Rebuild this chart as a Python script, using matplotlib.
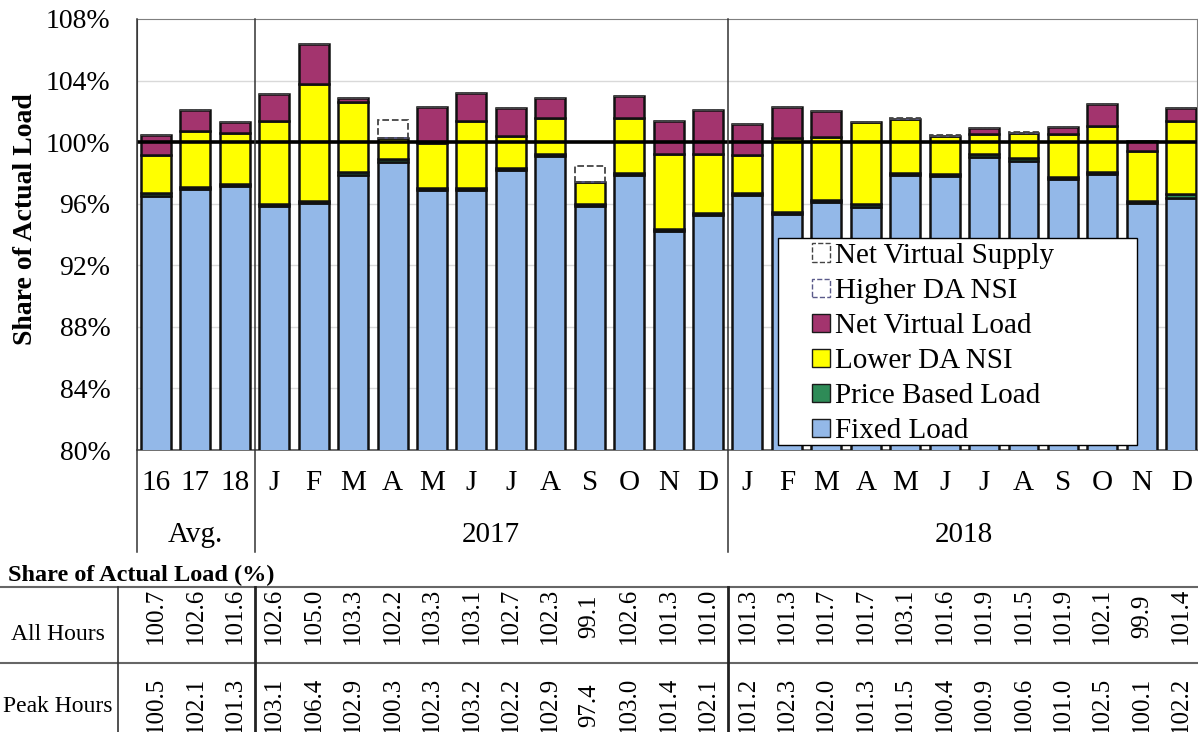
import matplotlib
matplotlib.use('Agg')
import matplotlib.pyplot as plt
import matplotlib.transforms as mtransforms
from matplotlib.patches import Patch, Rectangle
import numpy as np

plt.rcParams['font.family'] = ['Liberation Serif', 'DejaVu Serif']

# kategorie na osi x
etykiety = ['16', '17', '18',
            'J', 'F', 'M', 'A', 'M', 'J', 'J', 'A', 'S', 'O', 'N', 'D',
            'J', 'F', 'M', 'A', 'M', 'J', 'J', 'A', 'S', 'O', 'N', 'D']
grupy = ['Avg.', '2017', '2018']

# skladowe slupkow (% obciazenia rzeczywistego, godziny szczytu)
fixed_load = [96.5, 96.95, 97.15, 95.85, 96.05, 97.85, 98.7, 96.9, 96.9, 98.2, 99.1, 95.85, 97.85, 94.2, 95.25,
              96.55, 95.3, 96.1, 95.8, 97.85, 97.8, 99.05, 98.8, 97.6, 97.9, 96.05, 96.35]
price_based = [0.2, 0.15, 0.15, 0.15, 0.15, 0.2, 0.2, 0.15, 0.15, 0.15, 0.15, 0.15, 0.15, 0.15, 0.15,
               0.15, 0.15, 0.15, 0.15, 0.15, 0.15, 0.15, 0.15, 0.15, 0.15, 0.15, 0.3]
lower_da_nsi = [2.45, 3.6, 3.3, 5.35, 7.55, 4.55, 1.4, 2.9, 4.3, 2.05, 2.3, 1.4, 3.6, 4.85, 3.85,
                2.45, 4.85, 4.1, 5.35, 3.5, 2.45, 1.35, 1.65, 2.8, 3.0, 3.2, 4.7]
net_virtual_load = [1.33, 1.4, 0.7, 1.75, 2.65, 0.3, 0, 2.35, 1.85, 1.8, 1.35, 0, 1.4, 2.2, 2.85,
                    2.05, 2.0, 1.65, 0, 0, 0, 0.35, 0, 0.45, 1.45, 0.7, 0.85]
higher_da_nsi = [0] * 27
net_virtual_supply = [0, 0, 0, 0, 0, 0, 1.15, 0, 0, 0, 0, 1.05, 0, 0, 0,
                      0, 0, 0, 0, 0.08, 0.08, 0, 0.08, 0, 0, 0, 0]

# tabela pod wykresem
all_hours = ['100.7', '102.6', '101.6', '102.6', '105.0', '103.3', '102.2', '103.3', '103.1', '102.7', '102.3',
             '99.1', '102.6', '101.3', '101.0', '101.3', '101.3', '101.7', '101.7', '103.1', '101.6', '101.9',
             '101.5', '101.9', '102.1', '99.9', '101.4']
peak_hours = ['100.5', '102.1', '101.3', '103.1', '106.4', '102.9', '100.3', '102.3', '103.2', '102.2', '102.9',
              '97.4', '103.0', '101.4', '102.1', '101.2', '102.3', '102.0', '101.3', '101.5', '100.4', '100.9',
              '100.6', '101.0', '102.5', '100.1', '102.2']

W, H = 1198, 732
fig = plt.figure(figsize=(W / 100, H / 100), dpi=100)


def fy(py):
    return 1 - py / H


ax = fig.add_axes([137 / W, fy(450), (1197 - 137) / W, (450 - 19) / H])

x = np.arange(len(etykiety))
szer = 0.76
kraw = dict(edgecolor='#111111', linewidth=1.8)

dol = np.zeros(len(x))
ax.bar(x, fixed_load, szer, color='#93B8E8', label='Fixed Load', **kraw, zorder=3)
dol += np.array(fixed_load)
ax.bar(x, price_based, szer, bottom=dol, color='#2E8B57', label='Price Based Load', **kraw, zorder=3)
dol += np.array(price_based)
ax.bar(x, lower_da_nsi, szer, bottom=dol, color='#FFFF00', label='Lower DA NSI', **kraw, zorder=3)
dol += np.array(lower_da_nsi)
ax.bar(x, net_virtual_load, szer, bottom=dol, color='#A3346E', label='Net Virtual Load', **kraw, zorder=3)
dol += np.array(net_virtual_load)
ax.bar(x, higher_da_nsi, szer, bottom=dol, facecolor='none', edgecolor='#5a5a8a',
       linestyle='--', linewidth=1.3, label='Higher DA NSI', zorder=3)
dol += np.array(higher_da_nsi)
ax.bar(x, net_virtual_supply, szer, bottom=dol, facecolor='none', edgecolor='#444444',
       linestyle='--', linewidth=1.3, label='Net Virtual Supply', zorder=3)

ax.axhline(100, color='black', linewidth=2.6, zorder=4)

ax.set_ylim(80, 108)
ax.set_xlim(-0.48, 26.4)
ax.set_yticks(np.arange(80, 109, 4))
ax.set_yticklabels([f'{v}%' for v in range(80, 109, 4)], fontsize=20)
ax.tick_params(axis='y', length=0, pad=19)
ax.set_xticks([])
for v in range(84, 108, 4):
    ax.axhline(v, color='#d9d9d9', linewidth=1, zorder=0)
for s in ['top', 'right']:
    ax.spines[s].set_color('#7f7f7f')
ax.spines['left'].set_color('#555555')
ax.spines['bottom'].set_color('#555555')
ax.spines['bottom'].set_linewidth(1.2)

ax.set_ylabel('Share of Actual Load', fontsize=20, fontweight='bold')
ax.yaxis.set_label_coords((38 - 137) / 1060, (450 - 219) / 431)

# legenda w osobnej ramce
ax.add_patch(Rectangle(((778 - 137) / 1060, 5 / 431), 359 / 1060, 207 / 431, transform=ax.transAxes,
                       facecolor='white', edgecolor='black', linewidth=1.0, zorder=5))
uchwyty = [
    Patch(facecolor='none', edgecolor='#444444', linestyle='--', label='Net Virtual Supply'),
    Patch(facecolor='none', edgecolor='#5a5a8a', linestyle='--', label='Higher DA NSI'),
    Patch(facecolor='#A3346E', edgecolor='#1a1a1a', label='Net Virtual Load'),
    Patch(facecolor='#FFFF00', edgecolor='#1a1a1a', label='Lower DA NSI'),
    Patch(facecolor='#2E8B57', edgecolor='#1a1a1a', label='Price Based Load'),
    Patch(facecolor='#93B8E8', edgecolor='#1a1a1a', label='Fixed Load'),
]
leg = ax.legend(handles=uchwyty, loc='upper left', bbox_to_anchor=((812 - 137) / 1060, (450 - 243) / 431),
                fontsize=21, frameon=False, handlelength=0.6, handleheight=0.6, handletextpad=0.2,
                labelspacing=0.31, borderpad=0, borderaxespad=0)
leg.set_zorder(6)

# etykiety pod osia
tr = mtransforms.blended_transform_factory(ax.transData, fig.transFigure)
for xi, et in zip(x, etykiety):
    fig.text(xi, fy(483), et, transform=tr, ha='center', va='center', fontsize=21)
for xi, g in zip([1, 8.5, 20.5], grupy):
    fig.text(xi, fy(535), g, transform=tr, ha='center', va='center', fontsize=21)

for xs in [-0.48, 2.5, 14.5]:
    fig.add_artist(plt.Line2D([xs, xs], [fy(19), fy(552)], transform=tr, color='#333333', linewidth=1.1))

# tabela
fig.text(8 / W, fy(575), 'Share of Actual Load (%)', fontsize=17.5, fontweight='bold', ha='left', va='center')
for py in [587, 663]:
    fig.add_artist(plt.Line2D([0, 1], [fy(py), fy(py)], transform=fig.transFigure, color='#666666', linewidth=1.5))
fig.add_artist(plt.Line2D([118 / W, 118 / W], [fy(587), 0], transform=fig.transFigure, color='#333333', linewidth=1.2))
for xs in [2.5, 14.5]:
    fig.add_artist(plt.Line2D([xs, xs], [fy(587), 0], transform=tr, color='#222222', linewidth=2.0))

fig.text(58 / W, fy(635), 'All Hours', fontsize=17, ha='center', va='center')
fig.text(58 / W, fy(707), 'Peak Hours', fontsize=17, ha='center', va='center')
for xi, a, p in zip(x, all_hours, peak_hours):
    fig.text(xi, fy(616), a, transform=tr, rotation=90, ha='center', va='center', fontsize=18)
    fig.text(xi, fy(705), p, transform=tr, rotation=90, ha='center', va='center', fontsize=18)

fig.savefig('out.png', dpi=100)
